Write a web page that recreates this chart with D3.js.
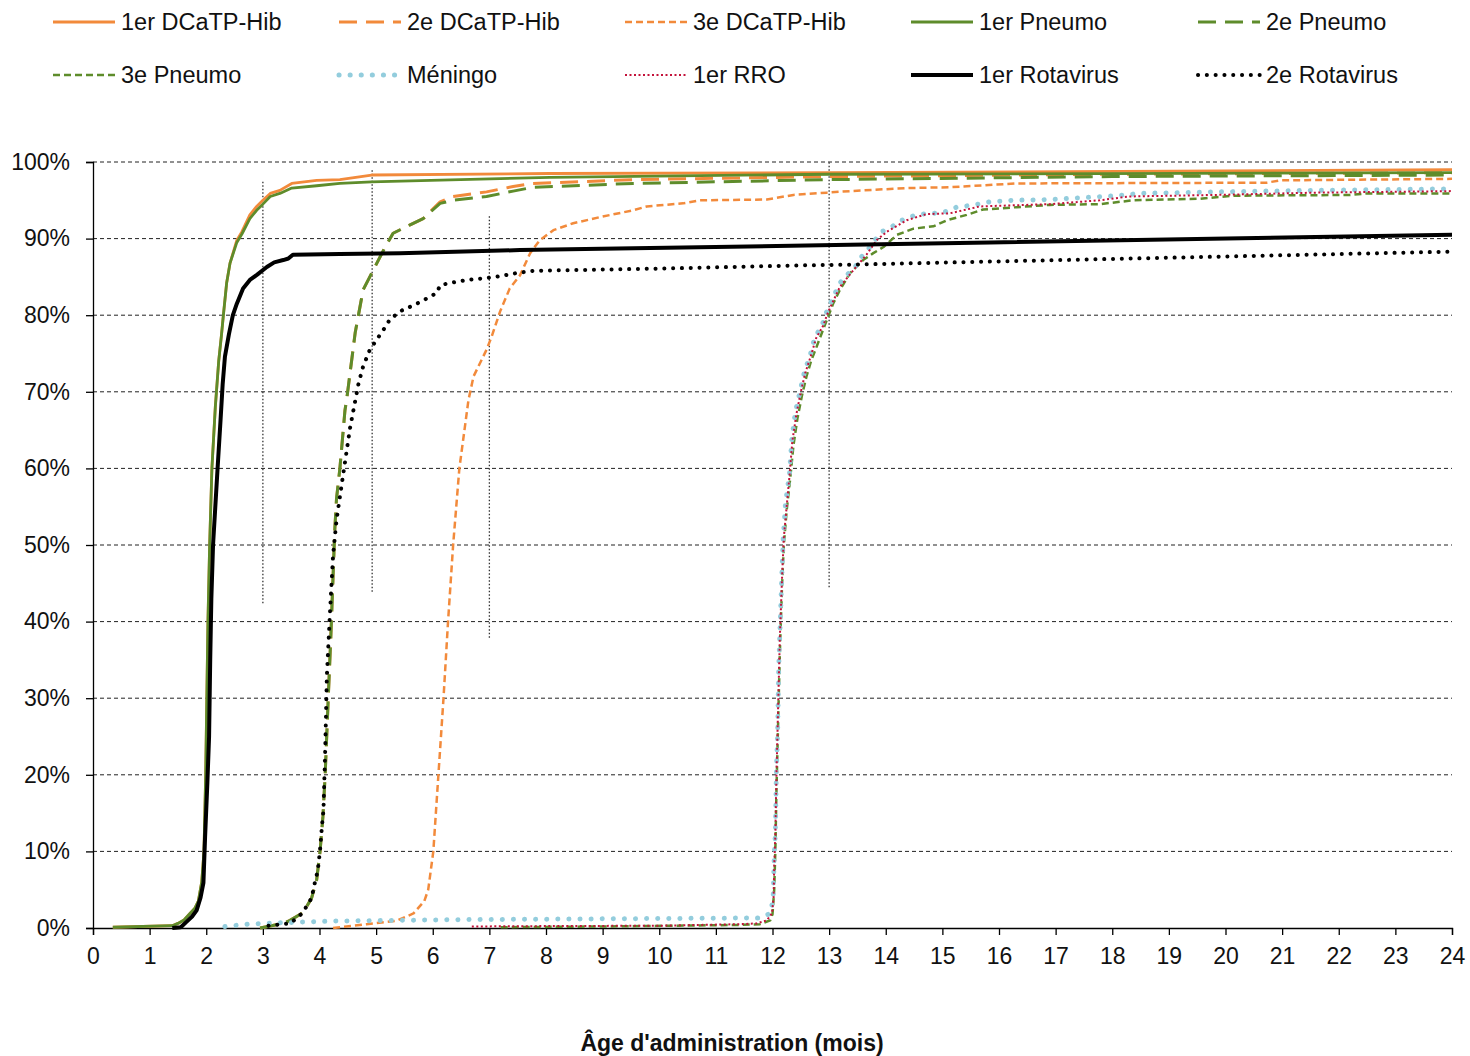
<!DOCTYPE html>
<html><head><meta charset="utf-8">
<script src="https://cdn.jsdelivr.net/npm/d3@7"></script>
<style>
body{margin:0;background:#fff;}
svg{display:block;font-family:"Liberation Sans",Arial,Helvetica,sans-serif;}
</style></head>
<body>
<svg id="chart" width="1470" height="1056"></svg>
<script>
// ---- Data (age in months, cumulative coverage %) ----
const xTicks = d3.range(0, 25);
const yTicks = [0,10,20,30,40,50,60,70,80,90,100];

const dcatp1 = [[0.35,0.1],[1.4,0.3],[1.5,0.6],[1.6,1],[1.7,1.8],[1.8,2.6],[1.86,3.5],[1.92,6],[1.96,10],[1.99,20],[2.01,30],[2.03,40],[2.06,50],[2.1,60],[2.16,68],[2.22,74],[2.27,77.5],[2.3,79.8],[2.36,84.2],[2.42,86.8],[2.54,89.8],[2.63,90.9],[2.77,93.1],[2.89,94.2],[3.0,95],[3.13,95.9],[3.3,96.3],[3.51,97.2],[3.95,97.6],[4.36,97.7],[4.92,98.3],[8.07,98.5],[13,98.6],[24,99.0]];
const pneumo1 = [[0.35,0.1],[1.4,0.3],[1.5,0.6],[1.6,1],[1.7,1.8],[1.8,2.6],[1.86,3.5],[1.92,6],[1.96,10],[1.99,20],[2.01,30],[2.03,40],[2.06,50],[2.1,60],[2.16,68],[2.22,74],[2.27,77.5],[2.3,79.8],[2.36,84.2],[2.42,86.8],[2.54,89.5],[2.63,90.6],[2.77,92.6],[2.89,93.7],[3.0,94.5],[3.13,95.5],[3.3,95.9],[3.51,96.6],[3.95,96.9],[4.36,97.2],[4.92,97.4],[8.07,98.0],[13,98.4],[24,98.6]];
const dcatp2 = [[2.95,0],[3.36,0.6],[3.48,1],[3.71,2],[3.86,3.9],[3.95,6.3],[4.01,10],[4.06,14.5],[4.1,20],[4.16,31],[4.2,38],[4.22,42],[4.27,52],[4.3,56],[4.36,60],[4.45,67.6],[4.48,69],[4.63,77.7],[4.77,83.3],[4.95,85.9],[5.16,88.9],[5.3,90.7],[5.6,91.8],[5.83,92.6],[6.13,94.8],[6.36,95.5],[6.95,96.1],[7.42,96.8],[7.77,97.2],[9.54,97.7],[13,98.1],[18,98.4],[24,98.6]];
const pneumo2 = [[2.95,0],[3.36,0.6],[3.48,1],[3.71,2],[3.86,3.9],[3.95,6.3],[4.01,10],[4.06,14.5],[4.1,20],[4.16,31],[4.2,38],[4.22,42],[4.27,52],[4.3,56],[4.36,60],[4.45,67.6],[4.48,69],[4.63,77.7],[4.77,83.3],[4.95,85.9],[5.16,88.9],[5.3,90.7],[5.6,91.8],[5.83,92.6],[6.13,94.6],[6.36,95],[6.95,95.5],[7.42,96.2],[7.77,96.7],[9.54,97.2],[13,97.7],[18,98.1],[24,98.3]];
const dcatp3 = [[4.24,0],[4.83,0.5],[5.36,0.95],[5.66,1.9],[5.85,3.5],[5.92,5],[6.01,10],[6.1,20],[6.19,30],[6.27,40],[6.36,50],[6.47,60],[6.63,68.9],[6.72,72],[6.95,75.5],[7.04,77.2],[7.19,80.5],[7.36,83.5],[7.54,85.2],[7.72,88.1],[7.89,89.8],[8.13,91.1],[8.48,92],[8.95,92.8],[9.54,93.7],[9.78,94.2],[10.42,94.6],[10.72,95],[11.9,95.1],[12.37,95.7],[12.96,96],[13.37,96.2],[14.37,96.6],[15.13,96.7],[16.31,97.2],[20.73,97.3],[20.96,97.6],[24,97.8]];
const pneumo3 = [[7.2,0.1],[9,0.2],[11.43,0.4],[11.78,0.5],[11.96,1],[12.0,1.8],[12.03,5],[12.05,10],[12.07,18],[12.1,27],[12.13,36],[12.17,45],[12.2,50],[12.25,54.5],[12.31,58.5],[12.37,63],[12.44,66.5],[12.52,69.5],[12.6,72],[12.68,74],[12.78,75.9],[12.96,79.4],[13.07,81.5],[13.19,83.3],[13.37,85.5],[13.6,87.2],[13.78,88.1],[13.96,88.9],[14.2,90.5],[14.49,91.3],[14.84,91.6],[15.08,92.4],[15.43,93.1],[15.72,93.8],[16.31,94.1],[16.9,94.4],[17.78,94.5],[18.37,95],[19.55,95.2],[20.14,95.6],[22.2,95.7],[22.5,95.9],[24,95.9]];
const meningo = [[2.33,0.2],[2.74,0.5],[3.36,0.7],[4.24,0.9],[5.42,1.0],[6.6,1.1],[11.57,1.3],[11.78,1.3],[11.96,1.9],[12.01,3.7],[12.02,6.3],[12.03,9.3],[12.05,12.4],[12.06,16.7],[12.07,21],[12.09,25.4],[12.1,29.8],[12.11,34.1],[12.13,38.5],[12.15,42.8],[12.17,47.2],[12.19,51],[12.23,55.5],[12.3,59.3],[12.34,63.7],[12.4,67.2],[12.49,70.2],[12.57,72.8],[12.66,74.6],[12.75,77.2],[12.87,78.5],[12.93,80],[13.02,81.5],[13.1,82.8],[13.19,84.2],[13.31,85.2],[13.46,86.3],[13.57,87.6],[13.69,88.6],[13.81,89.8],[13.93,90.9],[14.1,91.5],[14.25,92.3],[14.46,92.9],[14.63,93.2],[14.84,93.3],[15.05,93.5],[15.25,94.1],[15.46,94.3],[15.63,94.5],[15.84,94.8],[16.25,95],[16.9,95.1],[18.08,95.6],[18.49,95.9],[19.84,96.1],[21.6,96.3],[24,96.5]];
const rro = [[6.69,0.2],[8,0.25],[10,0.3],[11.43,0.5],[11.72,0.6],[11.9,1.0],[11.99,1.9],[12.02,4],[12.03,8],[12.05,12],[12.07,20],[12.1,29],[12.13,38],[12.17,46],[12.2,51],[12.25,55],[12.3,59],[12.35,63.5],[12.42,67],[12.5,70],[12.58,72.5],[12.67,74.5],[12.77,77],[12.9,78.7],[12.96,80],[13.05,81.5],[13.19,83.7],[13.43,85.9],[13.66,87.9],[13.84,89.8],[14.02,90.9],[14.37,92.4],[14.72,93.2],[15.13,93.3],[15.25,93.5],[15.66,94.2],[16.9,94.5],[17.78,95],[18.3,95.5],[19.84,95.7],[21.6,96],[24,96.2]];
const rota1 = [[1.4,0],[1.55,0.1],[1.65,0.8],[1.75,1.5],[1.83,2.3],[1.9,4],[1.95,5.9],[1.98,12],[2.02,19],[2.05,25],[2.07,35],[2.09,43],[2.12,50],[2.16,55],[2.2,60],[2.25,66],[2.29,71],[2.33,74.6],[2.4,77.5],[2.47,80],[2.54,81.5],[2.65,83.5],[2.77,84.6],[2.9,85.3],[3.07,86.3],[3.2,86.9],[3.36,87.2],[3.45,87.4],[3.53,87.9],[4.36,88.0],[5.42,88.1],[7.54,88.5],[13.37,89.2],[15.84,89.5],[24,90.5]];
const rota2 = [[3.1,0.3],[3.33,0.5],[3.48,0.6],[3.6,1.3],[3.69,1.9],[3.77,2.8],[3.86,3.9],[3.92,6],[3.97,7.5],[4.01,10.2],[4.04,13],[4.07,15.4],[4.1,23],[4.13,32.9],[4.19,41.9],[4.24,48.7],[4.3,53.2],[4.36,56.3],[4.45,60.8],[4.54,65.3],[4.63,68.8],[4.69,71.1],[4.77,73.3],[4.89,75.5],[5.01,76.8],[5.13,78.1],[5.24,79.4],[5.42,80.5],[5.6,81.1],[5.8,81.8],[5.95,82.4],[6.07,82.9],[6.13,83.9],[6.3,84.2],[6.6,84.6],[6.89,84.8],[7.19,85.1],[7.48,85.5],[7.78,85.8],[10.13,86.1],[12.49,86.5],[13.37,86.6],[15.84,87.0],[24,88.3]];

// vertical reference markers: [age, from %, to %]
const refLines = [[3,42.4,97.6],[4.93,43.9,99.2],[7,37.9,93],[13,44.5,100]];

const seriesNames = ["1er DCaTP-Hib","2e DCaTP-Hib","3e DCaTP-Hib","1er Pneumo","2e Pneumo","3e Pneumo","Méningo","1er RRO","1er Rotavirus","2e Rotavirus"];
const seriesData = [dcatp1,dcatp2,dcatp3,pneumo1,pneumo2,pneumo3,meningo,rro,rota1,rota2];

// ---- Styles ----
const ORANGE="#F28A3B", GREEN="#5E8C2B", BLUE="#93CDDD", RED="#C3123A";
const styles = [
  {c:ORANGE,w:2.8,d:null,cap:"butt"},
  {c:ORANGE,w:3,d:"18,9",cap:"butt"},
  {c:ORANGE,w:2.5,d:"7,4",cap:"butt"},
  {c:GREEN,w:2.8,d:null,cap:"butt"},
  {c:GREEN,w:3,d:"18,9",cap:"butt"},
  {c:GREEN,w:2.5,d:"7,4",cap:"butt"},
  {c:BLUE,w:5,d:"0.1,11",cap:"round"},
  {c:RED,w:2,d:"2,2.5",cap:"butt"},
  {c:"#000",w:4,d:null,cap:"butt"},
  {c:"#000",w:4,d:"0.1,8.7",cap:"round"}
];

const FONT = "'Liberation Sans',Arial,sans-serif";
const svg = d3.select("#chart");
const L=93, R=1452, T=162, B=928;
const x = d3.scaleLinear().domain([0,24]).range([L,R]);
const y = d3.scaleLinear().domain([0,100]).range([B,T]);

// gridlines
svg.append("g").selectAll("line").data(yTicks.filter(v=>v>0)).join("line")
  .attr("x1",L).attr("x2",R).attr("y1",d=>y(d)).attr("y2",d=>y(d))
  .attr("stroke","#222").attr("stroke-width",1).attr("stroke-dasharray","4,3");

// reference vertical dotted lines
svg.append("g").selectAll("line").data(refLines).join("line")
  .attr("x1",d=>x(d[0])).attr("x2",d=>x(d[0])).attr("y1",d=>y(d[1])).attr("y2",d=>y(d[2]))
  .attr("stroke","#333").attr("stroke-width",1.3).attr("stroke-dasharray","1.5,2");

// axes
const xAxis = d3.axisBottom(x).tickValues(xTicks).tickSize(7).tickPadding(13).tickFormat(d3.format("d"));
const gx = svg.append("g").attr("transform",`translate(0,${B})`).call(xAxis);
gx.select(".domain").attr("stroke","#000").attr("stroke-width",1.3);
gx.selectAll(".tick line").attr("stroke","#000").attr("stroke-width",1.3);
gx.selectAll("text").attr("font-size",23).attr("fill","#111").style("font-family",FONT);

const yAxis = d3.axisLeft(y).tickValues(yTicks).tickSize(7).tickPadding(16).tickFormat(d=>d+"%");
const gy = svg.append("g").attr("transform",`translate(${L},0)`).call(yAxis);
gy.select(".domain").attr("stroke","#000").attr("stroke-width",1.3);
gy.selectAll(".tick line").attr("stroke","#000").attr("stroke-width",1.3);
gy.selectAll("text").attr("font-size",23).attr("fill","#111").style("font-family",FONT);

// series
const line = d3.line().x(d=>x(d[0])).y(d=>y(d[1]));
const gs = svg.append("g");
seriesData.forEach((data,i)=>{
  const s=styles[i];
  gs.append("path").datum(data).attr("d",line)
    .attr("fill","none").attr("stroke",s.c).attr("stroke-width",s.w)
    .attr("stroke-linecap",s.cap).attr("stroke-linejoin","round")
    .attr("stroke-dasharray",s.d);
});

// legend
const legCols=[53,339,625,911,1198], legRows=[22,75];
const lg = svg.append("g");
seriesNames.forEach((name,i)=>{
  const col=i%5,row=Math.floor(i/5), s=styles[i];
  const lx=legCols[col], ly=legRows[row];
  lg.append("line").attr("x1",lx).attr("x2",lx+62).attr("y1",ly).attr("y2",ly)
    .attr("stroke",s.c).attr("stroke-width",s.w).attr("stroke-linecap",s.cap).attr("stroke-dasharray",s.d);
  lg.append("text").attr("x",lx+68).attr("y",ly).attr("dy","0.35em")
    .attr("font-size",23.5).attr("fill","#111").text(name);
});

// x axis title
svg.append("text").attr("x",732).attr("y",1043).attr("dy","0.35em").attr("text-anchor","middle")
  .attr("font-size",23).attr("font-weight","bold").attr("fill","#111").text("Âge d'administration (mois)");
</script>
</body></html>
